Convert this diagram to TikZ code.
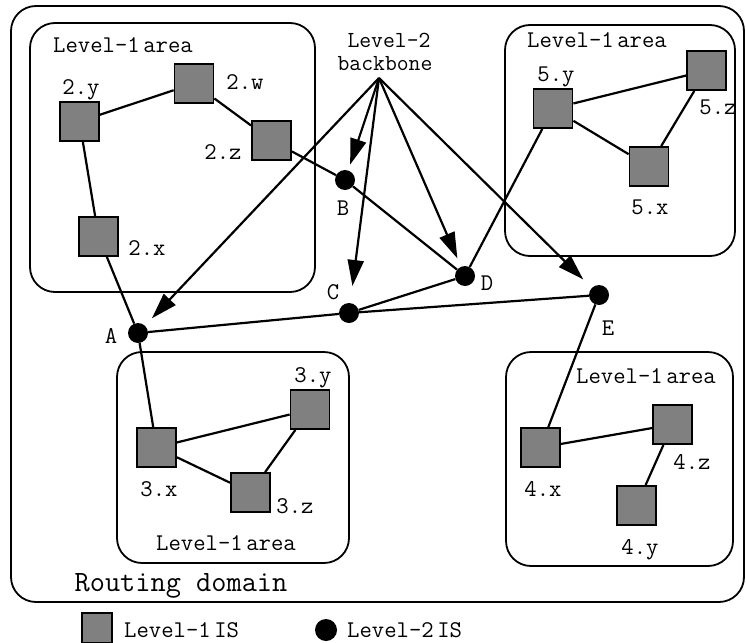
\documentclass[tikz,border=0pt]{standalone}
\usetikzlibrary{arrows.meta}
\definecolor{isgray}{HTML}{808080}
\begin{document}
\begin{tikzpicture}[x=1pt,y=-1pt,
  is1/.style={draw=black, line width=1.8pt, fill=isgray, rectangle, minimum size=39pt, inner sep=0pt},
  is2/.style={circle, fill=black, minimum size=20pt, inner sep=0pt},
  area/.style={draw, line width=1.8pt, rounded corners=25pt},
  lbl/.style={font=\ttfamily\fontsize{24}{28}\selectfont, inner sep=0pt, text height=14.5pt, text depth=0pt},
  link/.style={line width=2.2pt},
  bbarrow/.style={line width=2.2pt, -{Triangle[length=26pt,width=16pt]}}]
\useasboundingbox (0,0) rectangle (746,642);
% routing domain and areas
\draw[area] (11,6) rectangle (744,602);
\draw[area] (30,23) rectangle (315,292);
\draw[area] (505,25) rectangle (735,256);
\draw[area] (117,352) rectangle (349,563);
\draw[area] (506,352) rectangle (733,566);
% level-1 IS
\node[is1] (n2y) at (79.5,121.5) {};
\node[is1] (n2w) at (194,83.5) {};
\node[is1] (n2z) at (271.5,140.5) {};
\node[is1] (n2x) at (98.5,236.5) {};
\node[is1] (n5y) at (553,108.5) {};
\node[is1] (n5z) at (706.5,70.5) {};
\node[is1] (n5x) at (649,166.5) {};
\node[is1] (n3x) at (156.5,447.5) {};
\node[is1] (n3y) at (310,409.5) {};
\node[is1] (n3z) at (250.5,492.5) {};
\node[is1] (n4x) at (540.5,447.5) {};
\node[is1] (n4z) at (672.5,424.5) {};
\node[is1] (n4y) at (636.5,505.5) {};
% level-2 IS
\node[is2] (A) at (138,333) {};
\node[is2] (B) at (345,180) {};
\node[is2] (C) at (349,313) {};
\node[is2] (D) at (465,276) {};
\node[is2] (E) at (599,295) {};
\coordinate (bb) at (379,78);
% links
\draw[link] (n2y) -- (n2w);
\draw[link] (n2w) -- (n2z);
\draw[link] (n2y) -- (n2x);
\draw[link] (n2x) -- (A);
\draw[link] (n2z) -- (B);
\draw[link] (B) -- (D);
\draw[link] (A) -- (C);
\draw[link] (C) -- (D);
\draw[link] (C) -- (E);
\draw[link] (D) -- (n5y);
\draw[link] (E) -- (n4x);
\draw[link] (A) -- (n3x);
\draw[link] (n5y) -- (n5z);
\draw[link] (n5y) -- (n5x);
\draw[link] (n5x) -- (n5z);
\draw[link] (n3x) -- (n3y);
\draw[link] (n3x) -- (n3z);
\draw[link] (n3z) -- (n3y);
\draw[link] (n4x) -- (n4z);
\draw[link] (n4z) -- (n4y);
% backbone arrows
\draw[bbarrow, shorten >=10pt] (bb) -- (A);
\draw[bbarrow, shorten >=6pt] (bb) -- (B);
\draw[bbarrow, shorten >=17pt] (bb) -- (C);
\draw[bbarrow, shorten >=9pt] (bb) -- (D);
\draw[bbarrow, shorten >=12pt] (bb) -- (E);
% labels
\node[lbl, font=\ttfamily\fontsize{23}{26}\selectfont] (tl2) at (389,40) {Level-2};
\node[lbl, font=\ttfamily\fontsize{23}{26}\selectfont] (tbb) at (385,63) {backbone};
\node[lbl] (t2y) at (81,87) {2.y};
\node[lbl] (t2w) at (245,82) {2.w};
\node[lbl] (t2z) at (223,152) {2.z};
\node[lbl] (t2x) at (147,248) {2.x};
\node[lbl] (tB) at (343,208) {B};
\node[lbl] (tC) at (333,292) {C};
\node[lbl] (tD) at (487,283) {D};
\node[lbl] (tE) at (608,328) {E};
\node[lbl] (tA) at (111,336) {A};
\node[lbl] (t5y) at (556,74) {5.y};
\node[lbl] (t5z) at (718,107) {5.z};
\node[lbl] (t5x) at (650,207) {5.x};
\node[lbl] (t3y) at (313,375) {3.y};
\node[lbl] (t3x) at (159,489) {3.x};
\node[lbl] (t3z) at (295,506) {3.z};
\node[lbl] (t4x) at (543,489) {4.x};
\node[lbl] (t4z) at (692,462) {4.z};
\node[lbl] (t4y) at (640,547) {4.y};
\node[lbl] (a1) at (123,45) {Level-1\hspace{0.15em}area};
\node[lbl] (a2) at (597,40) {Level-1\hspace{0.15em}area};
\node[lbl] (a3) at (226,543) {Level-1\hspace{0.15em}area};
\node[lbl] (a4) at (646,376) {Level-1\hspace{0.15em}area};
\node[lbl, font=\ttfamily\fontsize{29.5}{34}\selectfont, text height=18pt] (rd) at (181,582) {Routing domain};
% legend
\node[is1, minimum size=30pt] (legsq) at (97,628) {};
\node[lbl, anchor=west] (leg1) at (124,630) {Level-1\hspace{0.15em}IS};
\node[is2, minimum size=22pt] (legdot) at (326,630) {};
\node[lbl, anchor=west] (leg2) at (347,630) {Level-2\hspace{0.15em}IS};
\end{tikzpicture}
\end{document}
